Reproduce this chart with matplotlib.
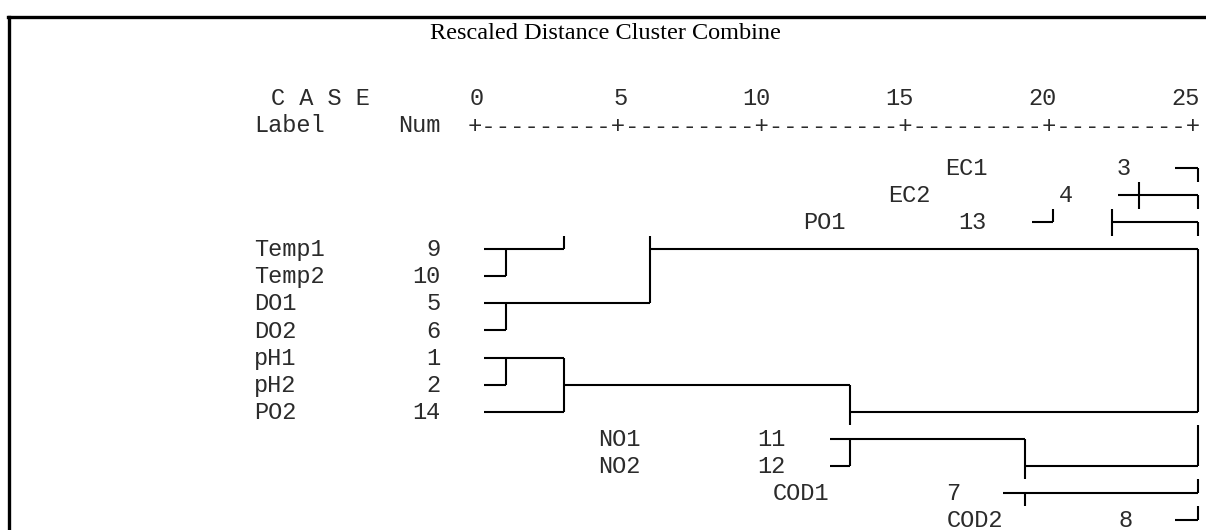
import matplotlib
matplotlib.use('Agg')
import matplotlib.pyplot as plt
from matplotlib.lines import Line2D

# cases, in the order they are printed
labels = ['EC1', 'EC2', 'PO1', 'Temp1', 'Temp2', 'DO1', 'DO2',
          'pH1', 'pH2', 'PO2', 'NO1', 'NO2', 'COD1', 'COD2']
nums = [3, 4, 13, 9, 10, 5, 6, 1, 2, 14, 11, 12, 7, 8]

# rescaled distance scale
ticks = [0, 5, 10, 15, 20, 25]

# horizontal branches: row, start distance, end distance
h_row = [0, 1, 2, 2, 3, 3, 4, 5, 6, 7, 8, 8, 9, 9, 10, 11, 11, 12, 13]
h_from = [24.4, 22.4, 19.4, 22.2, 0.25, 6.05, 0.25, 0.25, 0.25, 0.25,
          0.25, 3.05, 0.25, 13.05, 12.35, 12.35, 19.15, 18.4, 24.4]
h_to = [25.2, 25.2, 20.15, 25.2, 3.05, 25.2, 1.0, 6.05, 1.0, 3.05,
        1.0, 13.05, 3.05, 25.2, 19.15, 13.05, 25.2, 25.2, 25.2]

# vertical joins: distance, from row, to row
v_at = [25.2, 23.15, 25.2, 20.15, 22.2, 25.2, 3.05, 6.05, 25.2, 1.0,
        1.0, 1.0, 3.05, 13.05, 13.05, 25.2, 19.15, 25.2, 19.15, 25.2]
v_from = [0, 0.5, 1, 1.5, 1.5, 2, 2.5, 2.5, 3, 3,
          5, 7, 7, 8, 10, 9.5, 10, 11.5, 12, 12.5]
v_to = [0.5, 1.5, 1.5, 2, 2.5, 2.5, 3, 5, 9, 4,
        6, 8, 9, 9.5, 11, 11, 11.5, 12, 12.5, 13]

# where each printed row starts (label) and ends (number), distance units
label_x = [16.36, 14.37, 11.40, -7.8, -7.8, -7.8, -7.8, -7.8, -7.8, -7.8,
           4.23, 4.23, 10.35, 16.43]
num_x = [22.87, 20.84, 17.83, -1.29, -1.29, -1.29, -1.29, -1.29, -1.29,
         -1.29, 10.80, 10.80, 16.89, 22.94]

mono = 'Liberation Mono'
fs = 17.0
ink = '#2b2b2b'

fig = plt.figure(figsize=(12.06, 5.30), dpi=100)
ax = fig.add_axes([0, 0, 1, 1])
ax.set_xlim(-16.68, 25.49)
ax.set_ylim(13.368, -6.204)
ax.axis('off')

# frame (top and left only)
fig.add_artist(Line2D([0.0075, 0.0075], [0.0, 0.967], color='black', lw=2.4,
                      transform=fig.transFigure))
fig.add_artist(Line2D([0.0065, 1.0], [0.967, 0.967], color='black', lw=2.4,
                      transform=fig.transFigure))

ax.text(4.48, -4.75, 'Rescaled Distance Cluster Combine', ha='center',
        va='baseline', family='Liberation Serif', fontsize=17.5, color='black')

ax.text(-7.2, -2.33, 'C A S E', ha='left', va='baseline',
        family=mono, fontsize=fs, color=ink)
ax.text(-7.8, -1.33, 'Label', ha='left', va='baseline',
        family=mono, fontsize=fs, color=ink)
ax.text(-1.29, -1.33, 'Num', ha='right', va='baseline',
        family=mono, fontsize=fs, color=ink)
for t in ticks:
    ax.text(t + 0.25, -2.33, str(t), ha='right', va='baseline',
            family=mono, fontsize=fs, color=ink)
ruler = '+' + '---------+' * (len(ticks) - 1)
ax.text((ticks[0] + ticks[-1]) / 2, -1.30, ruler, ha='center', va='baseline',
        family=mono, fontsize=17.16, color=ink)

for i in range(len(labels)):
    ax.text(label_x[i], i + 0.26, labels[i], ha='left', va='baseline',
            family=mono, fontsize=fs, color=ink)
    ax.text(num_x[i], i + 0.26, str(nums[i]), ha='right', va='baseline',
            family=mono, fontsize=fs, color=ink)

for r, a, b in zip(h_row, h_from, h_to):
    ax.plot([a, b], [r, r], color='black', lw=1.5, solid_capstyle='butt')
for d, a, b in zip(v_at, v_from, v_to):
    ax.plot([d, d], [a, b], color='black', lw=1.5, solid_capstyle='butt')

fig.savefig('out.png', dpi=100)
